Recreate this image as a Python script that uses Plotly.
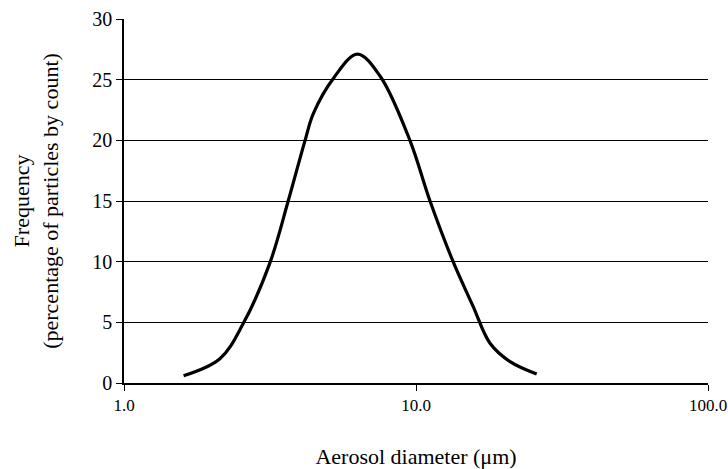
import plotly.graph_objects as go

diameter_um = [1.6, 2.13, 2.56, 3.16, 3.65, 4.17, 4.45, 5.21, 6.3, 7.53, 9.53, 11.17, 13.4, 15.7, 17.9, 21.0, 25.9]
frequency_pct = [0.6, 2.0, 4.9, 9.9, 15.0, 20.0, 22.2, 25.1, 27.1, 25.3, 20.0, 15.0, 10.0, 6.3, 3.3, 1.76, 0.74]

x_tick_vals = [1, 10, 100]
x_tick_text = ["1.0", "10.0", "100.0"]
y_tick_vals = [0, 5, 10, 15, 20, 25, 30]
grid_vals = [5, 10, 15, 20, 25]

FONT = "Liberation Serif, Times New Roman, serif"

fig = go.Figure()
fig.add_trace(go.Scatter(
    x=diameter_um, y=frequency_pct, mode="lines",
    line=dict(color="black", width=3.2, shape="spline", smoothing=1.0),
    showlegend=False, hoverinfo="skip",
))
# invisible trace to activate overlay axis used for the gridlines
fig.add_trace(go.Scatter(x=[1], y=[0], yaxis="y2", mode="markers",
                         marker=dict(opacity=0), showlegend=False, hoverinfo="skip"))

fig.update_layout(
    width=728, height=469,
    margin=dict(l=124, r=20, t=19, b=86),
    paper_bgcolor="white", plot_bgcolor="white",
    font=dict(family=FONT, color="black", size=22),
    xaxis=dict(
        type="log", range=[0, 2], automargin=False,
        tickvals=x_tick_vals, ticktext=x_tick_text,
        ticks="outside", ticklen=6, tickcolor="black", tickwidth=1,
        showline=True, linecolor="black", linewidth=1.5,
        showgrid=False, zeroline=False,
        tickfont=dict(size=17),
        title=dict(text="Aerosol diameter (μm)", font=dict(size=22), standoff=35),
    ),
    yaxis=dict(
        range=[0, 30], tickvals=y_tick_vals, automargin=False,
        ticks="outside", ticklen=6, tickcolor="black", tickwidth=1,
        showline=True, linecolor="black", linewidth=1.5,
        showgrid=False, zeroline=False,
        tickfont=dict(size=20),
        title=dict(text="Frequency<br>(percentage of particles by count)", font=dict(size=22), standoff=28),
    ),
    yaxis2=dict(
        overlaying="y", range=[0, 30], tickvals=grid_vals, automargin=False,
        showticklabels=False, showgrid=True, gridcolor="black", gridwidth=1,
        zeroline=False, showline=False, ticks="",
    ),
)

fig.write_html("out.html")
